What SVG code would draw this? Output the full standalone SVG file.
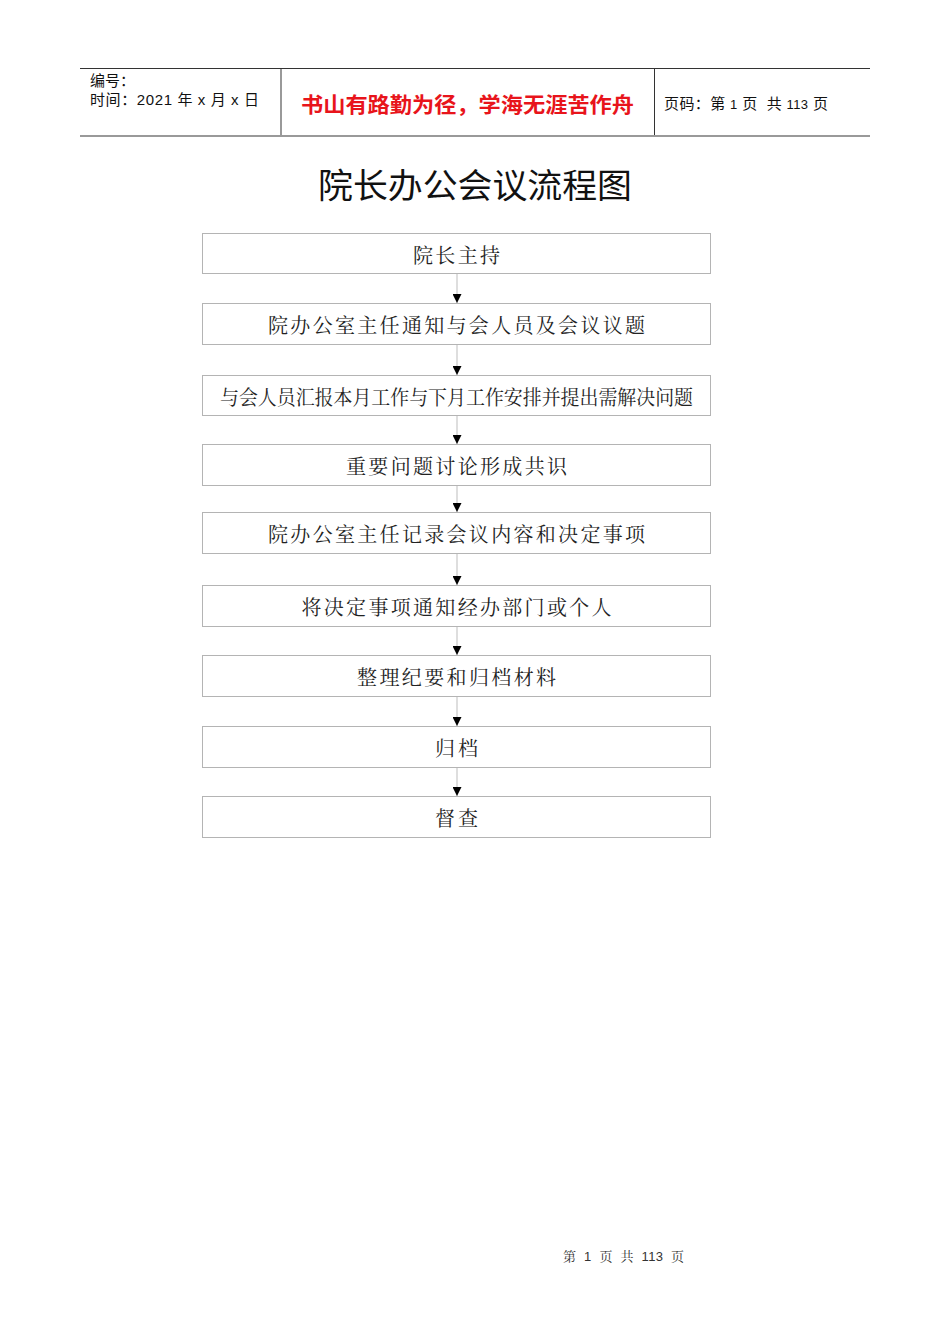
<svg xmlns="http://www.w3.org/2000/svg" width="950" height="1344" viewBox="0 0 950 1344">
<style>
.hd{font-family:"Liberation Sans","Noto Sans CJK SC",sans-serif;font-size:15px;fill:#111;white-space:pre}
.red{font-family:"Noto Sans CJK SC",sans-serif;font-size:21px;font-weight:bold;fill:#e8141b}
.title{font-family:"Noto Sans CJK SC",sans-serif;font-size:34px;fill:#111}
.box{fill:#fff;stroke:#b4b4b4;stroke-width:1}
.bt{font-family:"Noto Serif CJK SC","Noto Sans CJK SC",serif;font-size:20px;fill:#222;text-anchor:middle}
.ln{stroke:#bdbdbd;stroke-width:1}
.ft{font-family:"Liberation Sans","Noto Serif CJK SC",sans-serif;font-size:13px;fill:#333;white-space:pre}
</style>
<defs>
<marker id="ah" viewBox="0 0 10 10" refX="10" refY="5" markerWidth="9" markerHeight="9" markerUnits="userSpaceOnUse" orient="auto">
<path d="M0,0 L10,5 L0,10 z" fill="#000"/>
</marker>
</defs>
<rect width="950" height="1344" fill="#fff"/>
<g id="header">
<line x1="80" y1="68.5" x2="870" y2="68.5" stroke="#333" stroke-width="1"/>
<line x1="80" y1="136" x2="870" y2="136" stroke="#999" stroke-width="2"/>
<line x1="281" y1="69" x2="281" y2="135" stroke="#999" stroke-width="2"/>
<line x1="654.5" y1="69" x2="654.5" y2="135" stroke="#333" stroke-width="1"/>
<text class="hd" x="90" y="86">编号：</text>
<text class="hd" x="90" y="105" textLength="169" xml:space="preserve">时间：2021 年 x 月 x 日</text>
<text class="red" x="301" y="112" textLength="333" lengthAdjust="spacingAndGlyphs">书山有路勤为径，学海无涯苦作舟</text>
<text class="hd" x="664" y="109" textLength="164" xml:space="preserve">页码：第 <tspan font-size="13">1</tspan> 页  共 <tspan font-size="13">113</tspan> 页</text>
</g>
<text id="title" class="title" x="475" y="198" text-anchor="middle" textLength="314" lengthAdjust="spacingAndGlyphs">院长办公会议流程图</text>
<g id="connectors" class="ln" marker-end="url(#ah)">
<line x1="457" y1="273" x2="457" y2="303"/>
<line x1="457" y1="344" x2="457" y2="375"/>
<line x1="457" y1="415" x2="457" y2="444"/>
<line x1="457" y1="485" x2="457" y2="512"/>
<line x1="457" y1="553" x2="457" y2="585"/>
<line x1="457" y1="626" x2="457" y2="655"/>
<line x1="457" y1="696" x2="457" y2="726"/>
<line x1="457" y1="767" x2="457" y2="796"/>
</g>
<g id="n1"><rect class="box" x="202.5" y="233.5" width="508" height="40"/><text class="bt" x="456.5" y="263" textLength="87">院长主持</text></g>
<g id="n2"><rect class="box" x="202.5" y="303.5" width="508" height="41"/><text class="bt" x="456.5" y="333" textLength="377">院办公室主任通知与会人员及会议议题</text></g>
<g id="n3"><rect class="box" x="202.5" y="375.5" width="508" height="40"/><text class="bt" x="456.5" y="405" textLength="473" lengthAdjust="spacingAndGlyphs">与会人员汇报本月工作与下月工作安排并提出需解决问题</text></g>
<g id="n4"><rect class="box" x="202.5" y="444.5" width="508" height="41"/><text class="bt" x="456.5" y="474" textLength="221">重要问题讨论形成共识</text></g>
<g id="n5"><rect class="box" x="202.5" y="512.5" width="508" height="41"/><text class="bt" x="456.5" y="542" textLength="377">院办公室主任记录会议内容和决定事项</text></g>
<g id="n6"><rect class="box" x="202.5" y="585.5" width="508" height="41"/><text class="bt" x="456.5" y="615" textLength="310">将决定事项通知经办部门或个人</text></g>
<g id="n7"><rect class="box" x="202.5" y="655.5" width="508" height="41"/><text class="bt" x="456.5" y="685" textLength="199">整理纪要和归档材料</text></g>
<g id="n8"><rect class="box" x="202.5" y="726.5" width="508" height="41"/><text class="bt" x="456.5" y="756" textLength="43">归档</text></g>
<g id="n9"><rect class="box" x="202.5" y="796.5" width="508" height="41"/><text class="bt" x="456.5" y="826" textLength="43">督查</text></g>
<text id="footer" class="ft" x="563" y="1261" textLength="121" xml:space="preserve">第  1  页  共  113  页</text>
</svg>
